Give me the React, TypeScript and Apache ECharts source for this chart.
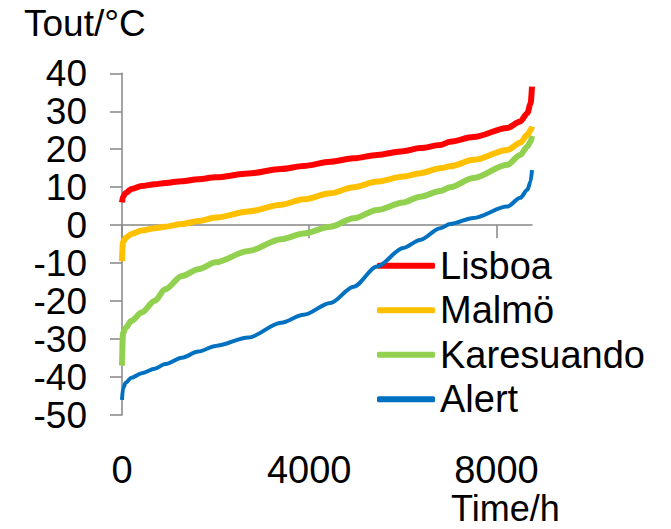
import React, { useEffect, useRef } from "react";
import * as echarts from "echarts";

const hours = [0, 20, 80, 200, 420, 700, 920, 1280, 1630, 2000, 2700, 3400, 3880, 4450, 4950, 5450, 6010, 6370, 6800, 7010, 7510, 8230, 8510, 8660, 8730, 8760];

const lisboa = [6, 7.5, 8.5, 9.5, 10.3, 10.8, 11.1, 11.6, 12.1, 12.6, 13.6, 14.8, 15.6, 16.7, 17.6, 18.5, 19.5, 20.3, 21.1, 22.0, 23.2, 25.6, 27.3, 29.5, 32, 36.5];
const malmo = [-9.5, -4.5, -3.3, -2.3, -1.4, -0.8, -0.4, 0.3, 1.1, 2.0, 3.6, 5.4, 6.8, 8.4, 10.0, 11.5, 12.8, 13.7, 15.0, 15.5, 17.2, 19.8, 21.7, 23.8, 25, 26];
const karesuando = [-37, -28.5, -27, -25.2, -23, -19.9, -16.9, -13.4, -11.6, -9.8, -6.8, -3.7, -2.2, -0.4, 1.8, 4.0, 6.0, 7.5, 9.0, 10.0, 12.4, 15.9, 18.5, 20.7, 22, 23.5];
const alert = [-46, -43, -41.5, -40.2, -39, -37.8, -36.6, -34.9, -33.3, -31.8, -29.6, -25.7, -23.6, -20.5, -16.2, -10.9, -6, -3.9, -0.8, 0.3, 1.9, 4.9, 7.2, 9.3, 11.5, 14.5];

const seriesNames = ["Lisboa", "Malmö", "Karesuando", "Alert"];
const seriesColors = ["#FF0000", "#FFC000", "#92D050", "#0070C0"];
const seriesWidths = [6, 6, 6, 4];
const seriesValues = [lisboa, malmo, karesuando, alert];

const xTicks = [0, 4000, 8000];
const yTitle = "Tout/°C";
const xTitle = "Time/h";

const FONT = "'Liberation Sans', Arial, sans-serif";

export default function App() {
  const ref = useRef<HTMLDivElement>(null);
  useEffect(() => {
    if (!ref.current) return;
    const chart = echarts.init(ref.current, null, { renderer: "svg" });
    const axisGray = "#868686";
    chart.setOption({
      animation: false,
      backgroundColor: "#ffffff",
      grid: { left: 122, top: 73.3, width: 410, height: 341.7, containLabel: false },
      xAxis: {
        type: "value",
        min: 0,
        max: 8760,
        interval: 4000,
        axisLine: { show: true, lineStyle: { color: axisGray, width: 1.5 } },
        axisTick: { show: true, inside: false, length: 13, customValues: xTicks, lineStyle: { color: axisGray, width: 1.5 } },
        splitLine: { show: false },
        axisLabel: {
          customValues: xTicks,
          formatter: (v: number) => String(v),
          fontSize: 38,
          fontFamily: FONT,
          color: "#000",
          margin: 36,
        },
      },
      yAxis: {
        type: "value",
        min: -50,
        max: 40,
        interval: 10,
        axisLine: { show: true, lineStyle: { color: axisGray, width: 1.5 } },
        axisTick: { show: true, inside: false, length: 12, lineStyle: { color: axisGray, width: 1.5 } },
        splitLine: { show: false },
        axisLabel: {
          formatter: (v: number) => String(v),
          fontSize: 37,
          fontFamily: FONT,
          color: "#000",
          margin: 35,
        },
      },
      legend: {
        orient: "vertical",
        left: 377,
        top: 246.7,
        itemWidth: 58,
        itemHeight: 6,
        itemGap: 6.5,
        itemTextGap: 5,
        icon: "roundRect",
        padding: 0,
        textStyle: { fontSize: 38, fontFamily: FONT, color: "#000", lineHeight: 38 },
        data: seriesNames.map((n, i) => ({
          name: n,
          itemStyle: { color: seriesColors[i] },
        })),
      },
      graphic: [
        {
          type: "text",
          left: 24,
          top: 5,
          style: { text: yTitle, fontSize: 37, fontFamily: FONT, fill: "#000" },
        },
        {
          type: "text",
          left: 451,
          top: 490,
          style: { text: xTitle, fontSize: 36, lineHeight: 36, fontFamily: FONT, fill: "#000" },
        },
      ],
      series: seriesNames.map((n, i) => ({
        name: n,
        type: "line",
        data: hours.map((h, j) => [h, seriesValues[i][j]]),
        showSymbol: false,
        smooth: 0.3,
        smoothMonotone: "x",
        lineStyle: { color: seriesColors[i], width: seriesWidths[i] },
        itemStyle: { color: seriesColors[i] },
        z: 10 - i,
      })),
    });
    return () => chart.dispose();
  }, []);
  return <div ref={ref} style={{ position: "fixed", left: 0, top: 0, width: 671, height: 529 }} />;
}
